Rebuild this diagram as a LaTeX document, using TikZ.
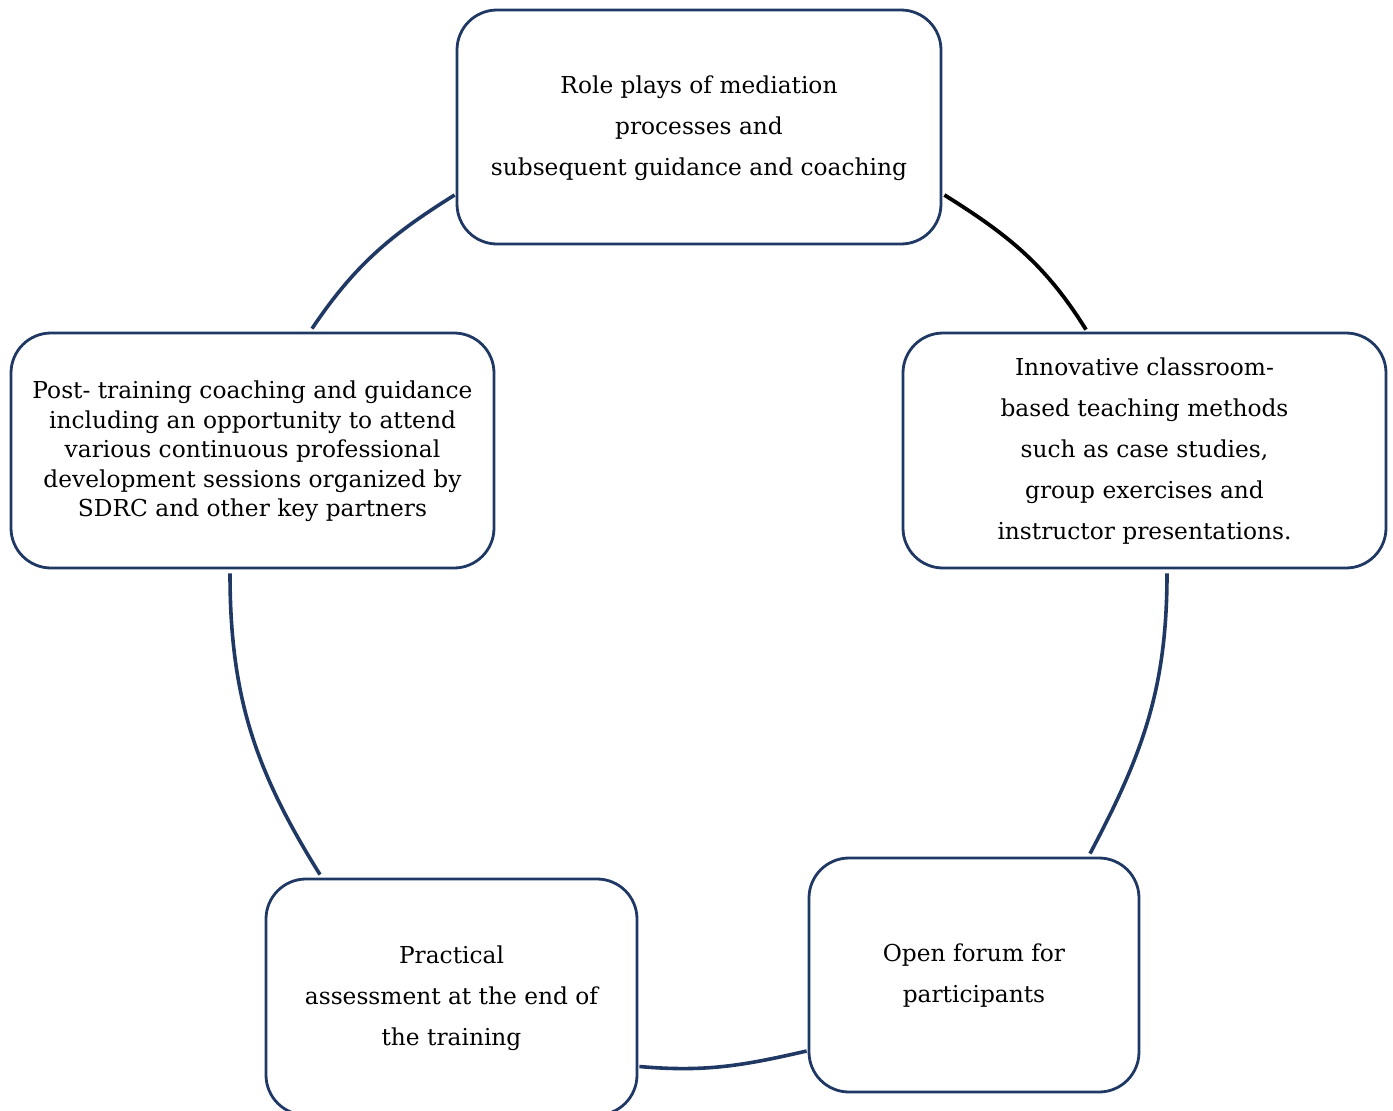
\documentclass[tikz,border=0pt]{standalone}
\usepackage{fontspec}
\setmainfont{DejaVu Serif}
\usetikzlibrary{calc}
\definecolor{boxblue}{RGB}{31,56,100}
\tikzset{
  stagebox/.style={draw=boxblue, line width=2.8pt, rounded corners=40pt, fill=white,
    align=center, inner sep=0pt, text=black, text depth=3pt},
  wide/.style={font={\fontsize{23.3}{41}\selectfont}},
  tight/.style={font={\fontsize{23.3}{29.5}\selectfont}},
  link/.style={draw=boxblue, line width=3.6pt},
  blacklink/.style={draw=black, line width=3.8pt}
}
\begin{document}
\begin{tikzpicture}[x=1pt,y=-1pt]
\useasboundingbox (0,0) rectangle (1393,1111);
\node[stagebox, wide, minimum width=484pt, minimum height=234pt] (top) at (699,127)
  {Role plays of mediation\\processes and\\subsequent guidance and coaching};
\node[stagebox, wide, minimum width=483pt, minimum height=235pt] (right) at (1144.5,450.5)
  {Innovative classroom-\\based teaching methods\\such as case studies,\\group exercises and\\instructor presentations.};
\node[stagebox, wide, minimum width=330pt, minimum height=234pt] (br) at (974,975)
  {Open forum for\\participants};
\node[stagebox, wide, minimum width=371pt, minimum height=236pt] (bl) at (451.5,997)
  {Practical\\assessment at the end of\\the training};
\node[stagebox, tight, minimum width=483pt, minimum height=235pt] (left) at (252.5,450.5)
  {Post- training coaching and guidance\\including an opportunity to attend\\various continuous professional\\development sessions organized by\\SDRC and other key partners};
\draw[blacklink] ([xshift=2pt,yshift=-68pt]top.east) to[out=-32,in=122] ([xshift=-58.5pt,yshift=2pt]right.north);
\draw[link] ([xshift=22.5pt,yshift=-4pt]right.south) to[out=-90,in=62] ([xshift=116pt,yshift=3pt]br.north);
\draw[link] ([xshift=1pt,yshift=-69.5pt]bl.east) to[out=-5,in=193] ([xshift=-1pt,yshift=-76pt]br.west);
\draw[link] ([xshift=-22.5pt,yshift=-4pt]left.south) to[out=-90,in=122] ([xshift=-131.5pt,yshift=3pt]bl.north);
\draw[link] ([xshift=59.5pt,yshift=3pt]left.north) to[out=56,in=-148] ([xshift=-1pt,yshift=-68pt]top.west);
\end{tikzpicture}
\end{document}
